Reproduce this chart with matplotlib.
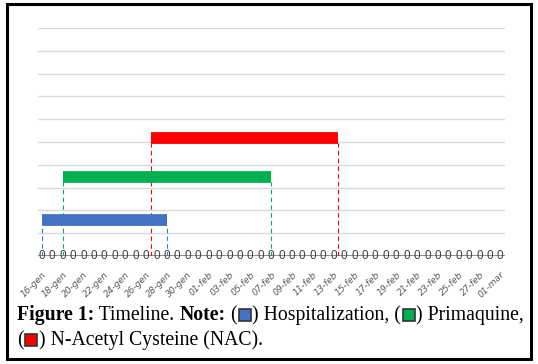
import numpy as np
import matplotlib.pyplot as plt
from matplotlib.patches import Rectangle
import datetime as dt

# days from 16-gen to 01-mar
start = dt.date(2023, 1, 16)
n_days = 45
mesi = {1: "gen", 2: "feb", 3: "mar"}
day_labels = [f"{(start + dt.timedelta(d)).day:02d}-{mesi[(start + dt.timedelta(d)).month]}" for d in range(n_days)]
zero_vals = [0] * n_days

# treatment periods (day index from 16-gen), and level on the y axis
names = ["Hospitalization", "Primaquine", "N-Acetyl Cysteine (NAC)"]
t_start = [0, 2, 10.5]
t_end = [12, 22, 28.4]
levels = [1.56, 3.45, 5.16]
colors = ["#4472C4", "#00B050", "#FF0000"]

fig = plt.figure(figsize=(5.38, 3.64), dpi=100)
ax = fig.add_axes([38/538, 1-256/364, 467/538, 228/364])

days = np.arange(n_days)
ax.set_xlim(-0.36, 44.45)
ax.set_ylim(0, 10)
for y in range(1, 11):
    ax.axhline(y, color="#d9d9d9", lw=1, zorder=0)
ax.axhline(0, color="#868686", lw=1.3, zorder=1)

for s, e, lv, c in zip(t_start, t_end, levels, colors):
    ax.plot([s, e], [lv, lv], color=c, lw=8.5, solid_capstyle="butt", zorder=3)
    ax.plot([s, s], [0, lv - 0.2], color=c, lw=0.8, ls=(0, (4, 3)), zorder=2)
    ax.plot([e, e], [0, lv - 0.2], color=c, lw=0.8, ls=(0, (4, 3)), zorder=2)

for d, v in zip(days, zero_vals):
    ax.text(d, v, str(v), ha="center", va="center", fontsize=8.5, color="#404040", zorder=4,
            fontfamily="Liberation Sans")

ax.set_xticks(days[::2])
ax.set_xticklabels(day_labels[::2], rotation=45, ha="right", rotation_mode="anchor",
                   fontsize=6.6, color="#595959", style="italic")
ax.tick_params(axis="x", length=0, pad=10)
ax.set_yticks([])
for sp in ax.spines.values():
    sp.set_visible(False)

# border
fig.patches.append(Rectangle((7/538, 1-359/364), 524/538, 355/364, transform=fig.transFigure,
                             fill=False, ec="black", lw=2.2))

# caption
renderer = fig.canvas.get_renderer()
fs = 14.2
serif = "Liberation Serif"

def write_line(items, x0, y0):
    x = x0
    for it in items:
        if it[0] == "box":
            w = 12 / 538
            h = 12 / 364
            fig.patches.append(Rectangle((x + 1.5/538, y0 - 0.5/364), w, h, transform=fig.transFigure,
                                         fc=it[1], ec="#333333", lw=1.2))
            x += w + 3/538
        else:
            t = fig.text(x, y0, it[0], fontsize=fs, fontweight=it[1], fontfamily=serif,
                         ha="left", va="baseline", color="black")
            bb = t.get_window_extent(renderer)
            x += bb.width / 538

write_line([("Figure 1:", "bold"), (" Timeline. ", "normal"), ("Note:", "bold"), (" (", "normal"),
            ("box", colors[0]), (") Hospitalization, (", "normal"), ("box", colors[1]),
            (") Primaquine,", "normal")], 17/538, 1-320/364)
write_line([("(", "normal"), ("box", colors[2]), (") N-Acetyl Cysteine (NAC).", "normal")],
           17/538, 1-345/364)

fig.savefig("out.png", dpi=100)
